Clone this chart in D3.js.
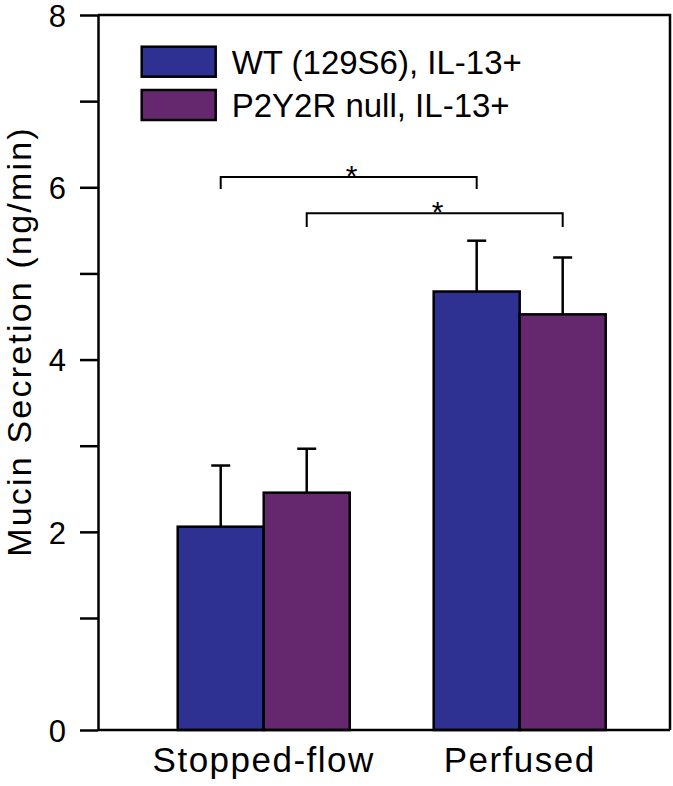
<!DOCTYPE html>
<html>
<head>
<meta charset="utf-8">
<script src="https://cdn.jsdelivr.net/npm/d3@7"></script>
<style>
  html, body { margin: 0; padding: 0; background: #fff; }
  svg { display: block; font-family: "Liberation Sans", Arial, Helvetica, sans-serif; }
</style>
</head>
<body>
<svg id="chart" width="673" height="786"></svg>
<script>
// ---- data ----
const categories = ["Stopped-flow", "Perfused"];
const seriesNames = ["WT (129S6), IL-13+", "P2Y2R null, IL-13+"];
const seriesColors = ["#2e3192", "#65286e"];
const wtMeans = [2.06, 4.79];
const wtErrors = [0.71, 0.59];
const nullMeans = [2.455, 4.525];
const nullErrors = [0.51, 0.66];
const yTickValues = [0, 1, 2, 3, 4, 5, 6, 7, 8];
const yTickLabels = ["0", "", "2", "", "4", "", "6", "", "8"];
const yTitle = "Mucin Secretion (ng/min)";
// significance brackets: [category index, series index] endpoints, bracket level, drop level
const bracketFrom = [[0, 0], [0, 1]];
const bracketTo = [[1, 0], [1, 1]];
const bracketLevels = [6.12, 5.70];
const bracketDrops = [5.98, 5.54];
const bracketLabels = ["*", "*"];

const seriesValues = [wtMeans, nullMeans];
const seriesErrors = [wtErrors, nullErrors];

(function () {
const svg = d3.select("#chart");
const pLeft = 98, pRight = 670, pTop = 15, pBottom = 730;

// piecewise y scale (axis baseline is stretched in the original)
const y = d3.scaleLinear().domain([0, 1, 8]).range([pBottom, 618, pTop]);

const x0 = d3.scaleBand().domain(categories).range([177.7, 605.7]).paddingInner(0.328).paddingOuter(0);
const x1 = d3.scaleBand().domain(seriesNames.map((d, i) => i)).range([0, x0.bandwidth()]).padding(0);

const rows = [];
categories.forEach((c, ci) => {
  seriesNames.forEach((s, si) => {
    rows.push({ c, ci, si, v: seriesValues[si][ci], e: seriesErrors[si][ci] });
  });
});

// error bars (behind bars)
const eb = svg.append("g").attr("stroke", "#000").attr("stroke-width", 2.5);
rows.forEach(r => {
  const cx = x0(r.c) + x1(r.si) + x1.bandwidth() / 2;
  eb.append("line").attr("x1", cx).attr("x2", cx).attr("y1", y(r.v)).attr("y2", y(r.v + r.e));
  eb.append("line").attr("x1", cx - 9.5).attr("x2", cx + 9.5).attr("y1", y(r.v + r.e)).attr("y2", y(r.v + r.e));
});

// bars
svg.append("g").selectAll("rect").data(rows).join("rect")
  .attr("x", d => x0(d.c) + x1(d.si))
  .attr("y", d => y(d.v))
  .attr("width", x1.bandwidth())
  .attr("height", d => y(0) - y(d.v))
  .attr("fill", d => seriesColors[d.si])
  .attr("stroke", "#000")
  .attr("stroke-width", 2.5);

// frame (top and right)
svg.append("path")
  .attr("d", `M${pLeft},${pTop}H${pRight}V${pBottom}`)
  .attr("fill", "none").attr("stroke", "#000").attr("stroke-width", 2.5);

// y axis
const yAxis = svg.append("g").attr("transform", `translate(${pLeft},0)`)
  .call(d3.axisLeft(y).tickValues(yTickValues).tickSize(18).tickSizeOuter(0).tickPadding(14)
    .tickFormat((d, i) => yTickLabels[i]));
yAxis.selectAll("path, line").attr("stroke", "#000").attr("stroke-width", 2.5);
yAxis.selectAll("text").attr("font-size", 31).attr("font-family", "Liberation Sans, Arial, sans-serif")
  .attr("fill", "#000").attr("dy", "0.36em");

// x axis
const xAxis = svg.append("g").attr("transform", `translate(0,${pBottom})`)
  .call(d3.axisBottom(x0).tickSize(0).tickSizeOuter(0).tickPadding(17));
xAxis.select(".domain").attr("d", `M${pLeft},0H${pRight}`).attr("stroke", "#000").attr("stroke-width", 2.5);
xAxis.selectAll("text").attr("font-size", 35).attr("font-family", "Liberation Sans, Arial, sans-serif")
  .attr("fill", "#000").attr("letter-spacing", 1.5);

// y title
svg.append("text")
  .attr("transform", `translate(31,${(123 + 560) / 2}) rotate(-90)`)
  .attr("text-anchor", "middle")
  .attr("font-size", 34)
  .attr("letter-spacing", 2.2)
  .text(yTitle);

// significance brackets
const bk = svg.append("g");
bracketFrom.forEach((f, i) => {
  const t = bracketTo[i];
  const xa = x0(categories[f[0]]) + x1(f[1]) + x1.bandwidth() / 2;
  const xb = x0(categories[t[0]]) + x1(t[1]) + x1.bandwidth() / 2;
  const yl = y(bracketLevels[i]), yd = y(bracketDrops[i]);
  bk.append("path").attr("d", `M${xa},${yd}V${yl}H${xb}V${yd}`)
    .attr("fill", "none").attr("stroke", "#000").attr("stroke-width", 2);
  bk.append("text").attr("x", (xa + xb) / 2 + 3).attr("y", yl + 9)
    .attr("text-anchor", "middle").attr("font-size", 30).text(bracketLabels[i]);
});

// legend
const lg = svg.append("g");
seriesNames.forEach((s, i) => {
  const yy = 46.7 + i * 43.3;
  lg.append("rect").attr("x", 141.7).attr("y", yy).attr("width", 74).attr("height", 30)
    .attr("fill", seriesColors[i]).attr("stroke", "#000").attr("stroke-width", 2.5);
  lg.append("text").attr("x", 231.7).attr("y", yy + 15).attr("dy", "0.36em")
    .attr("font-size", 33).text(s);
});
})();
</script>
</body>
</html>
